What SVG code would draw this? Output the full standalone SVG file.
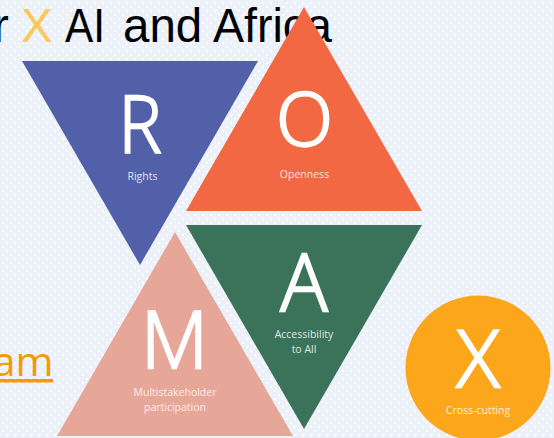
<svg xmlns="http://www.w3.org/2000/svg" width="554" height="438" viewBox="0 0 554 438">
<style>
.title{font-family:"Liberation Sans",Arial,sans-serif;font-size:47.5px}
.big{font-family:"Open Sans","Noto Sans",sans-serif;font-weight:300;fill:#fff;stroke:#fff;stroke-width:2.3px;text-anchor:middle;font-size:80px}
.small{font-family:"Open Sans","Noto Sans",sans-serif;fill:#fff;fill-opacity:.85;text-anchor:middle;font-size:10.5px}
</style>
<defs>
<pattern id="dots" width="8" height="8" patternUnits="userSpaceOnUse">
<rect width="8" height="8" fill="#ecf0f8"/>
<rect x="6" y="2" width="2" height="2" fill="#fff"/>
<rect x="2" y="6" width="2" height="2" fill="#fff"/>
</pattern>
</defs>
<rect width="554" height="438" fill="url(#dots)"/>
<g id="title">
<text class="title" x="-7" y="42" fill="#000">r</text>
<text class="title" x="21" y="42" fill="#ffc658">X</text>
<text class="title" x="65" y="42" fill="#000" textLength="40" lengthAdjust="spacingAndGlyphs">AI</text>
<text class="title" x="123" y="42" fill="#000">and</text>
<text class="title" x="213" y="42" fill="#000" textLength="119" lengthAdjust="spacingAndGlyphs">Africa</text>
</g>
<g id="link">
<text x="53.500" y="375.500" text-anchor="end" font-family="'Open Sans','Noto Sans',sans-serif" font-size="41" fill="#f59a00">am</text>
<rect x="0" y="379" width="53" height="3.500" fill="#f59a00"/>
</g>
<g id="node-r">
<polygon points="22,61 258,61 140,265" fill="#525fa9"/>
<text class="big" x="140" y="153" textLength="43" lengthAdjust="spacingAndGlyphs">R</text>
<text class="small" x="142.500" y="179.500">Rights</text>
</g>
<g id="node-o">
<polygon points="304,7 422,211 186,211" fill="#f26843"/>
<text class="big" x="304.500" y="146" style="font-size:74px">O</text>
<text class="small" x="304.500" y="178">Openness</text>
</g>
<g id="node-a">
<polygon points="186,225 422,225 304,429" fill="#3a7359"/>
<text class="big" x="304" y="310.500" textLength="47" lengthAdjust="spacingAndGlyphs">A</text>
<text class="small" x="304" y="337.500">Accessibility</text>
<text class="small" x="304" y="353">to All</text>
</g>
<g id="node-m">
<polygon points="175,232 293,436 57,436" fill="#e6a698"/>
<text class="big" x="174.500" y="367.500" textLength="67" lengthAdjust="spacingAndGlyphs">M</text>
<text class="small" x="175" y="395.500">Multistakeholder</text>
<text class="small" x="175" y="411">participation</text>
</g>
<g id="node-x">
<circle cx="478" cy="368" r="72.500" fill="#fca71b"/>
<text class="big" x="478" y="386.500" textLength="43" lengthAdjust="spacingAndGlyphs">X</text>
<text class="small" x="478" y="414">Cross-cutting</text>
</g>
<g id="connectors"/>
</svg>
